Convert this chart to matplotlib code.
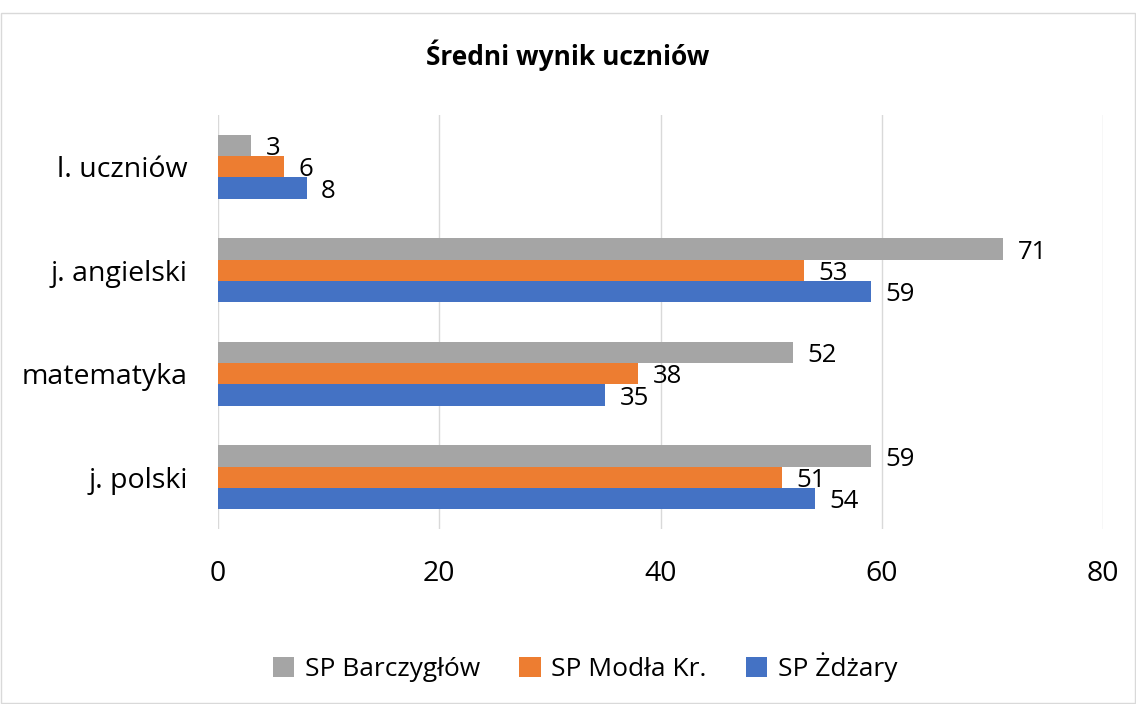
import numpy as np
import matplotlib
matplotlib.use('Agg')
import matplotlib.pyplot as plt
from matplotlib.patches import Rectangle

plt.rcParams['font.family'] = ['Open Sans', 'DejaVu Sans']

categories = ['j. polski', 'matematyka', 'j. angielski', 'l. uczniów']
zdzary = [54, 35, 59, 8]
modla = [51, 38, 53, 6]
barczyglow = [59, 52, 71, 3]
series = [('SP Żdżary', zdzary, '#4472C4'),
          ('SP Modła Kr.', modla, '#ED7D31'),
          ('SP Barczygłów', barczyglow, '#A5A5A5')]

fig = plt.figure(figsize=(11.36, 7.04), dpi=100)
ax = fig.add_axes([0.1919, 0.2486, 0.7791, 0.588])

y = np.arange(len(categories))
h = 0.206
bars = {}
for i, (name, vals, col) in enumerate(series):
    b = ax.barh(y + (i - 1) * h, vals, height=h, color=col, label=name)
    bars[name] = b
    for rect, v in zip(b, vals):
        ax.text(rect.get_width() + 1.3, rect.get_y() + rect.get_height() / 2 - 0.03, str(v),
                va='center', ha='left', fontsize=18.5, color='black')

ax.set_xlim(0, 80)
ax.set_ylim(-0.5, 3.5)
ax.set_xticks([0, 20, 40, 60, 80])
ax.set_yticks(y)
ax.set_yticklabels(categories)
ax.tick_params(axis='both', length=0, labelsize=20.5)
ax.tick_params(axis='x', pad=22)
ax.tick_params(axis='y', pad=22)
ax.grid(axis='x', color='#D9D9D9', linewidth=1)
ax.set_axisbelow(True)
for s in ax.spines.values():
    s.set_visible(False)

fig.text(0.5, 0.922, 'Średni wynik uczniów', ha='center', va='center',
         fontsize=19, fontweight='bold')

handles = [bars['SP Barczygłów'], bars['SP Modła Kr.'], bars['SP Żdżary']]
labels = ['SP Barczygłów', 'SP Modła Kr.', 'SP Żdżary']
fig.legend(handles, labels, loc='center', bbox_to_anchor=(0.515, 0.052), ncol=3,
           frameon=False, fontsize=19, handlelength=0.8, handleheight=0.8,
           handletextpad=0.4, columnspacing=1.5)

fig.patches.append(Rectangle((0.001, 0.001), 0.998, 0.98, transform=fig.transFigure,
                             fill=False, edgecolor='#D9D9D9', linewidth=1))

fig.savefig('out.png', dpi=100)
